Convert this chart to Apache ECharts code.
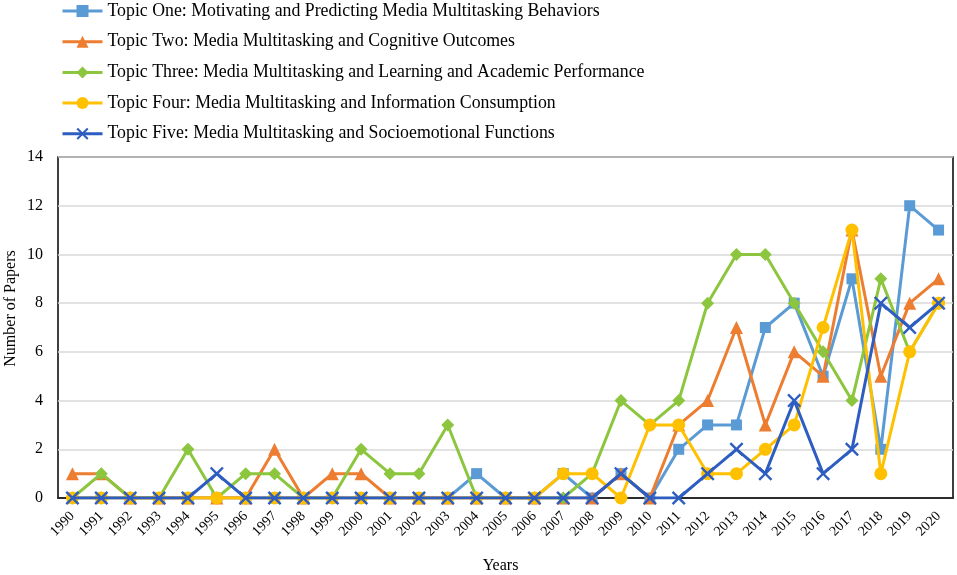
<!DOCTYPE html>
<html>
<head>
<meta charset="utf-8">
<script src="https://cdn.jsdelivr.net/npm/echarts@6/dist/echarts.min.js"></script>
<style>
  html, body { margin: 0; padding: 0; background: #fff; }
  #chart { width: 957px; height: 575px; }
</style>
</head>
<body>
<div id="chart"></div>
<script>
var years = ['1990', '1991', '1992', '1993', '1994', '1995', '1996', '1997', '1998', '1999',
  '2000', '2001', '2002', '2003', '2004', '2005', '2006', '2007', '2008', '2009',
  '2010', '2011', '2012', '2013', '2014', '2015', '2016', '2017', '2018', '2019', '2020'];

var topicOne   = [0, 0, 0, 0, 0, 0, 0, 0, 0, 0, 0, 0, 0, 0, 1, 0, 0, 1, 0, 1, 0, 2, 3, 3, 7, 8, 5, 9, 2, 12, 11];
var topicTwo   = [1, 1, 0, 0, 0, 0, 0, 2, 0, 1, 1, 0, 0, 0, 0, 0, 0, 0, 0, 1, 0, 3, 4, 7, 3, 6, 5, 11, 5, 8, 9];
var topicThree = [0, 1, 0, 0, 2, 0, 1, 1, 0, 0, 2, 1, 1, 3, 0, 0, 0, 0, 1, 4, 3, 4, 8, 10, 10, 8, 6, 4, 9, 6, 8];
var topicFour  = [0, 0, 0, 0, 0, 0, 0, 0, 0, 0, 0, 0, 0, 0, 0, 0, 0, 1, 1, 0, 3, 3, 1, 1, 2, 3, 7, 11, 1, 6, 8];
var topicFive  = [0, 0, 0, 0, 0, 1, 0, 0, 0, 0, 0, 0, 0, 0, 0, 0, 0, 0, 0, 1, 0, 0, 1, 2, 1, 4, 1, 2, 8, 7, 8];

var seriesNames = [
  'Topic One: Motivating and Predicting Media Multitasking Behaviors',
  'Topic Two: Media Multitasking and Cognitive Outcomes',
  'Topic Three: Media Multitasking and Learning and Academic Performance',
  'Topic Four: Media Multitasking and Information Consumption',
  'Topic Five: Media Multitasking and Socioemotional Functions'
];

var font = 'Liberation Serif';
var colors = ['#5B9BD5', '#ED7D31', '#8CC63F', '#FFC000', '#2E5DC1'];
var crossPath = 'path://M0,1.2 L1.2,0 L5,3.8 L8.8,0 L10,1.2 L6.2,5 L10,8.8 L8.8,10 L5,6.2 L1.2,10 L0,8.8 L3.8,5 Z';
var symbols = ['rect', 'triangle', 'diamond', 'circle', crossPath];
var sizes = [11, 13, 13, 13, 14];
var data = [topicOne, topicTwo, topicThree, topicFour, topicFive];

var chart = echarts.init(document.getElementById('chart'), null, { renderer: 'canvas' });
chart.setOption({
  animation: false,
  color: colors,
  textStyle: { fontFamily: font, color: '#000' },
  legend: {
    orient: 'vertical', left: 56, top: -4,
    itemWidth: 40, itemHeight: 15, itemGap: 10.7,
    lineStyle: { width: 3 },
    textStyle: { fontFamily: font, fontSize: 17.8, color: '#000', lineHeight: 20 },
    data: seriesNames
  },
  grid: {
    left: 58, right: 4, top: 157, bottom: 77,
    outerBoundsMode: 'none',
    show: true, borderColor: '#000', borderWidth: 1.5, backgroundColor: 'transparent'
  },
  xAxis: {
    type: 'category', data: years, boundaryGap: true,
    name: 'Years', nameLocation: 'middle', nameGap: 60, nameMoveOverlap: false,
    nameTextStyle: { fontFamily: font, fontSize: 16, color: '#000', padding: [0, 10, 0, 0] },
    axisLine: { show: true, lineStyle: { color: '#000', width: 1.5 } },
    axisTick: { show: false },
    axisLabel: { rotate: 45, fontFamily: font, fontSize: 14, color: '#000', margin: 16, interval: 0 }
  },
  yAxis: {
    type: 'value', min: 0, max: 14, interval: 2,
    name: 'Number of Papers', nameLocation: 'middle', nameGap: 39, nameMoveOverlap: false,
    nameTextStyle: { fontFamily: font, fontSize: 16, color: '#000', padding: [0, 0, 0, 38] },
    axisLine: { show: false }, axisTick: { show: false },
    axisLabel: { fontFamily: font, fontSize: 16, color: '#000', margin: 15 },
    splitLine: { lineStyle: { color: '#d9d9d9', width: 1.5 } }
  },
  series: seriesNames.map(function (n, i) {
    return {
      name: n, type: 'line', data: data[i],
      symbol: symbols[i], symbolSize: sizes[i],
      lineStyle: { width: 3, color: colors[i] },
      itemStyle: { color: colors[i] },
      z: 2 + i
    };
  })
});
</script>
</body>
</html>
